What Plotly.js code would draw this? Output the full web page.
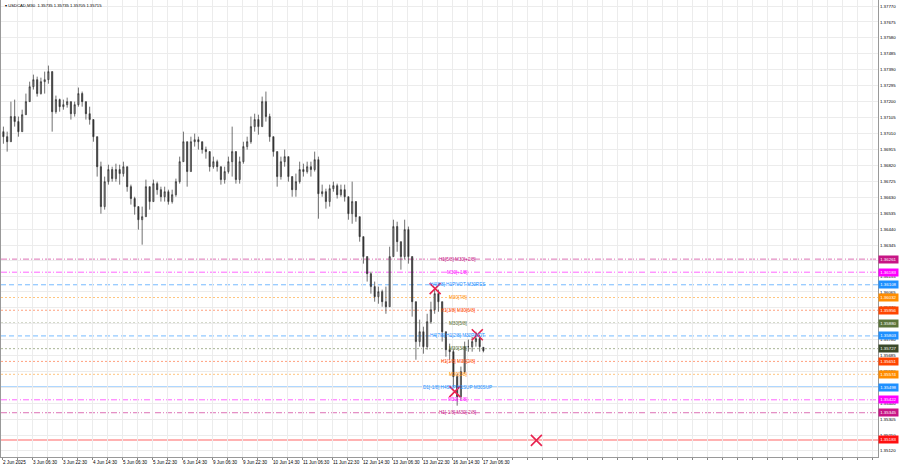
<!DOCTYPE html>
<html><head><meta charset="utf-8">
<script src="https://cdn.plot.ly/plotly-3.0.1.min.js"></script>
<style>html,body{margin:0;padding:0;background:#fff}#chart{width:900px;height:468px}</style>
</head><body><div id="chart"></div>
<script>
// ---- data (USDCAD, M30 chart, grouped 4 bars per candle) ----
const symbolTitle = "USDCAD,M30";
const lastBarOHLC = [1.35735, 1.35735, 1.35705, 1.35715];
const barsPerCandle = 4;

const openP = [
1.37021,1.36991,1.36961,1.37111,1.37081,1.37021,1.37122,1.37200,1.37289,1.37331,
1.37248,1.37319,1.37331,1.37379,1.37140,1.37212,1.37170,1.37182,1.37200,1.37128,
1.37182,1.37248,1.37200,1.37128,1.37093,1.36991,1.36812,1.36574,1.36723,1.36795,
1.36741,1.36795,1.36771,1.36812,1.36693,1.36622,1.36574,1.36496,1.36514,1.36693,
1.36604,1.36711,1.36675,1.36633,1.36663,1.36604,1.36645,1.36723,1.36842,1.36961,
1.36783,1.36961,1.36973,1.36961,1.36914,1.36902,1.36812,1.36842,1.36812,1.36735,
1.36783,1.36842,1.36902,1.36735,1.36842,1.36932,1.36961,1.37051,1.37093,1.37051,
1.37200,1.37111,1.36991,1.36902,1.36753,1.36842,1.36872,1.36753,1.36675,1.36723,
1.36795,1.36783,1.36812,1.36795,1.36854,1.36651,1.36663,1.36604,1.36681,1.36699,
1.36645,1.36675,1.36633,1.36532,1.36604,1.36514,1.36395,1.36276,1.36174,1.36097,
1.36037,1.36067,1.36007,1.35977,1.36276,1.36455,1.36365,1.36276,1.36437,1.36276,
1.36007,1.35769,1.35828,1.35739,1.35888,1.35959,1.36055,1.36007,1.35828,1.35721,
1.35709,1.35560,1.35441,1.35590,1.35739,1.35739,1.35769,1.35787,1.35735];
const highP = [
1.37051,1.37021,1.37200,1.37212,1.37111,1.37152,1.37248,1.37319,1.37361,1.37349,
1.37343,1.37379,1.37415,1.37379,1.37236,1.37218,1.37212,1.37224,1.37200,1.37200,
1.37284,1.37260,1.37200,1.37170,1.37093,1.36991,1.36842,1.36753,1.36824,1.36812,
1.36830,1.36824,1.36842,1.36812,1.36705,1.36633,1.36574,1.36574,1.36735,1.36693,
1.36735,1.36723,1.36693,1.36693,1.36675,1.36675,1.36741,1.36872,1.37021,1.36961,
1.36991,1.37009,1.36991,1.36961,1.36932,1.36902,1.36872,1.36854,1.36812,1.36812,
1.36872,1.37051,1.36902,1.36872,1.36961,1.36991,1.37111,1.37128,1.37122,1.37230,
1.37260,1.37128,1.36991,1.36902,1.36872,1.36914,1.36872,1.36753,1.36771,1.36842,
1.36830,1.36842,1.36842,1.36902,1.36872,1.36705,1.36681,1.36705,1.36723,1.36711,
1.36705,1.36705,1.36633,1.36723,1.36604,1.36514,1.36395,1.36276,1.36186,1.36127,
1.36097,1.36079,1.36097,1.36335,1.36496,1.36484,1.36365,1.36496,1.36455,1.36276,
1.36007,1.35900,1.35858,1.35935,1.36007,1.36091,1.36079,1.36007,1.35828,1.35757,
1.35721,1.35578,1.35620,1.35769,1.35781,1.35798,1.35828,1.35810,1.35735];
const lowP = [
1.36949,1.36902,1.36961,1.37051,1.36991,1.37021,1.37122,1.37200,1.37272,1.37230,
1.37242,1.37248,1.37307,1.37021,1.37128,1.37140,1.37152,1.37164,1.37093,1.37111,
1.37170,1.37170,1.37093,1.37063,1.36961,1.36753,1.36532,1.36556,1.36705,1.36723,
1.36723,1.36705,1.36753,1.36663,1.36586,1.36526,1.36437,1.36347,1.36514,1.36556,
1.36604,1.36645,1.36604,1.36604,1.36586,1.36592,1.36633,1.36711,1.36842,1.36693,
1.36783,1.36932,1.36914,1.36890,1.36860,1.36783,1.36800,1.36783,1.36705,1.36711,
1.36771,1.36753,1.36711,1.36711,1.36830,1.36914,1.36949,1.37021,1.37003,1.37051,
1.37081,1.36961,1.36872,1.36693,1.36735,1.36812,1.36723,1.36633,1.36633,1.36711,
1.36753,1.36771,1.36753,1.36783,1.36502,1.36633,1.36562,1.36574,1.36663,1.36622,
1.36633,1.36604,1.36496,1.36472,1.36484,1.36365,1.36234,1.36127,1.36055,1.36007,
1.35995,1.35977,1.35935,1.35977,1.36276,1.36305,1.36198,1.36258,1.36234,1.35918,
1.35661,1.35739,1.35697,1.35721,1.35876,1.35935,1.35947,1.35769,1.35679,1.35661,
1.35500,1.35387,1.35423,1.35578,1.35709,1.35709,1.35739,1.35709,1.35705];
const closeP = [
1.36991,1.36961,1.37111,1.37081,1.37021,1.37122,1.37200,1.37289,1.37331,1.37248,
1.37319,1.37331,1.37379,1.37140,1.37212,1.37170,1.37182,1.37200,1.37128,1.37182,
1.37248,1.37200,1.37128,1.37093,1.36991,1.36812,1.36574,1.36723,1.36795,1.36741,
1.36795,1.36771,1.36812,1.36693,1.36622,1.36574,1.36496,1.36514,1.36693,1.36604,
1.36711,1.36675,1.36633,1.36663,1.36604,1.36645,1.36723,1.36842,1.36961,1.36783,
1.36961,1.36973,1.36961,1.36914,1.36902,1.36812,1.36842,1.36812,1.36735,1.36783,
1.36842,1.36902,1.36735,1.36842,1.36932,1.36961,1.37051,1.37093,1.37051,1.37200,
1.37111,1.36991,1.36902,1.36753,1.36842,1.36872,1.36753,1.36675,1.36723,1.36795,
1.36783,1.36812,1.36795,1.36854,1.36651,1.36663,1.36604,1.36681,1.36699,1.36645,
1.36675,1.36633,1.36532,1.36604,1.36514,1.36395,1.36276,1.36174,1.36097,1.36037,
1.36067,1.36007,1.35977,1.36276,1.36455,1.36365,1.36276,1.36437,1.36276,1.36007,
1.35769,1.35828,1.35739,1.35888,1.35959,1.36055,1.36007,1.35828,1.35721,1.35709,
1.35560,1.35441,1.35590,1.35739,1.35739,1.35769,1.35787,1.35739,1.35715];

// time labels, one every 32 M30 bars (first visible bar = index 0)
const dateLabels = ["2 Jun 2025","3 Jun 06:30","3 Jun 22:30","4 Jun 14:30","5 Jun 06:30",
 "5 Jun 22:30","6 Jun 14:30","9 Jun 06:30","9 Jun 22:30","10 Jun 14:30","11 Jun 06:30",
 "11 Jun 22:30","12 Jun 14:30","13 Jun 06:30","13 Jun 22:30","16 Jun 14:30","17 Jun 06:30"];
const barsPerLabel = 32;
const barsPerGrid = 16;

const priceTicks = [1.37770,1.37675,1.37580,1.37485,1.37390,1.37295,1.37200,1.37105,1.37010,
 1.36915,1.36820,1.36725,1.36630,1.36535,1.36440,1.36345,1.36250,1.36155,1.36065,1.35970,
 1.35875,1.35780,1.35685,1.35590,1.35495,1.35400,1.35305,1.35210,1.35120];

// Murrey-style levels
const levelPrices = [1.36261,1.36183,1.36108,1.36032,1.35956,1.35880,1.35803,1.35727,
 1.35651,1.35574,1.35498,1.35422,1.35345,1.35183];
const levelNames = ["H1[5/8] M30[+2/8]","M30[+1/8]","H4[8/8] H1PIVOT M30RES","M30[7/8]",
 "H1[3/8] M30[6/8]","M30[5/8]","H4[7/8] H1[2/8] M30PIVOT","M30[3/8]","H1[1/8] M30[2/8]",
 "M30[1/8]","D1[-1/8] H4SUP H1SUP M30SUP","M30[-1/8]","H1[-1/8] M30[-2/8]",""];

// signal crosses (bar index, price)
const crossBars = [462, 507, 483, 570];
const crossPrices = [1.36085, 1.35810, 1.35471, 1.35180];

// ---- styles ----
const levelColors = ["#c71585","#ff00ff","#1e90ff","#ff8c00","#ff4500","#556b2f","#1e90ff",
 "#556b2f","#ff4500","#ff8c00","#1e90ff","#ff00ff","#c71585","#ff0000"];
const boxColors = ["#c71585","#ff00ff","#1e90ff","#ff8c00","#ff4500","#5b7339","#1e90ff",
 "#3b4a2b","#ff4500","#ff8c00","#1e90ff","#ff00ff","#c71585","#ff1010"];
const levelDash = ["6px,2px,1px,2px","6px,2px,1px,2px","5px,3px","2px,2px","2px,2px","2px,2px",
 "5px,3px","2px,2px","2px,2px","2px,2px","solid","6px,2px,1px,2px","6px,2px,1px,2px","solid"];
const levelWidth = [1,1,1,1,1,1,1,1,1,1,2,1,1,1.5];
const levelOpacity = [0.6,0.6,0.6,0.5,0.5,0.5,0.6,0.5,0.5,0.5,0.35,0.6,0.6,0.4];

const FONT = "Liberation Sans, Arial, sans-serif";
const candleX = openP.map((_, i) => i * barsPerCandle + 1.5);

const traces = [{
  type: "candlestick",
  x: candleX, open: openP, high: highP, low: lowP, close: closeP,
  increasing: {line: {color: "#333333", width: 0.7}, fillcolor: "#8a8a8a"},
  decreasing: {line: {color: "#333333", width: 0.7}, fillcolor: "#333333"},
  whiskerwidth: 0, hoverinfo: "skip"
}, {
  type: "scatter", mode: "markers", x: crossBars, y: crossPrices,
  marker: {symbol: "x-thin", size: 11, line: {color: "#e8224f", width: 1.6}},
  hoverinfo: "skip"
}];

const gridVals = [], gridText = [];
for (let b = 0; b <= 940; b += barsPerGrid) {
  gridVals.push(b);
  const k = b / barsPerLabel;
  gridText.push(Number.isInteger(k) && k < dateLabels.length ? dateLabels[k] : "");
}

const shapes = levelPrices.map((p, i) => ({
  type: "line", xref: "paper", x0: 0, x1: 1, yref: "y", y0: p, y1: p, layer: "below",
  opacity: levelOpacity[i],
  line: {color: levelColors[i], width: levelWidth[i], dash: levelDash[i]}
}));

const annotations = [];
levelPrices.forEach((p, i) => {
  if (levelNames[i]) annotations.push({
    xref: "x", x: 486, yref: "y", y: p, text: levelNames[i], showarrow: false,
    xanchor: "center", yanchor: "middle",
    font: {family: FONT, size: 4.6, color: levelColors[i]}
  });
  annotations.push({
    xref: "paper", x: 1, yref: "y", y: p, text: p.toFixed(5), showarrow: false,
    xanchor: "left", yanchor: "middle", bgcolor: boxColors[i], borderpad: 1.2,
    font: {family: FONT, size: 4.4, color: "#ffffff"}
  });
});
annotations.push({
  xref: "paper", yref: "paper", x: 0, y: 1, xanchor: "left", yanchor: "top",
  xshift: 2, yshift: -1, showarrow: false,
  text: "▾ " + symbolTitle + "  " + lastBarOHLC.map(v => v.toFixed(5)).join(" "),
  font: {family: FONT, size: 4.2, color: "#000"}
});

const layout = {
  width: 900, height: 468,
  margin: {l: 1, r: 22, t: 0, b: 11},
  paper_bgcolor: "#fff", plot_bgcolor: "#fff",
  showlegend: false, hovermode: false, boxgap: 0.55,
  font: {family: FONT, size: 4.4, color: "#000"},
  xaxis: {
    type: "linear", range: [-1.07, 934.4], rangeslider: {visible: false},
    tickmode: "array", tickvals: gridVals, ticktext: gridText, tickangle: 0,
    ticklabelposition: "outside right",
    ticks: "outside", ticklen: 2, tickcolor: "#888",
    tickfont: {family: FONT, size: 4.6, color: "#000"},
    showgrid: true, gridcolor: "#ececec", gridwidth: 1, zeroline: false,
    showline: true, linecolor: "#999", linewidth: 1, mirror: true, fixedrange: true
  },
  yaxis: {
    side: "right", range: [1.35081, 1.37806],
    tickmode: "array", tickvals: priceTicks, ticktext: priceTicks.map(v => v.toFixed(5)),
    ticks: "", tickfont: {family: FONT, size: 4.4, color: "#000"},
    showgrid: true, gridcolor: "#ececec", gridwidth: 1, zeroline: false,
    showline: true, linecolor: "#999", linewidth: 1, mirror: true, fixedrange: true
  },
  shapes: shapes,
  annotations: annotations
};

Plotly.newPlot("chart", traces, layout, {displayModeBar: false, staticPlot: true});
</script>
</body></html>
